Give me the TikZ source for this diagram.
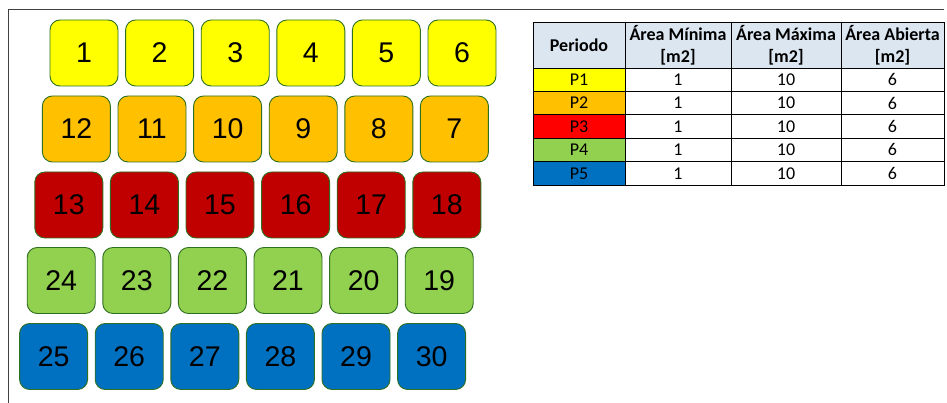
\documentclass[tikz,border=0pt]{standalone}
\usepackage{fontspec}
\newfontfamily\arifont{Liberation Sans}
\newfontfamily\calfont{Carlito}
\definecolor{cyel}{HTML}{FFFF00}
\definecolor{corg}{HTML}{FFC000}
\definecolor{cdred}{HTML}{C00000}
\definecolor{cred}{HTML}{FF0000}
\definecolor{cgrn}{HTML}{92D050}
\definecolor{cblu}{HTML}{0070C0}
\definecolor{chead}{HTML}{DCE6F1}
\definecolor{cedge}{HTML}{2F6F20}
\definecolor{cframe}{HTML}{404040}
\tikzset{
  cell/.style={draw=cedge, line width=0.9pt, rounded corners=10pt, minimum width=68pt, minimum height=66pt, inner sep=0pt, font=\arifont\fontsize{28.5}{28.5}\selectfont},
  tcell/.style={draw=black, line width=0.8pt, inner sep=0pt, font=\calfont\fontsize{18}{19}\selectfont, align=center},
  thead/.style={tcell, fill=chead, font=\calfont\bfseries\fontsize{18}{22}\selectfont}
}
\begin{document}
\begin{tikzpicture}[x=1pt,y=-1pt]
\useasboundingbox (0,0) rectangle (947,403);
\fill[white] (0,0) rectangle (947,403);
\coordinate (fa) at (8.5,403);
\coordinate (fb) at (8.5,9.5);
\coordinate (fc) at (944,9.5);
\draw[cframe, line width=1pt] (fa) -- (fb) -- (fc);
% boxes
\foreach \lab [count=\i from 0] in {1,2,3,4,5,6}
  \node[cell, fill=cyel] (b\lab) at (84+75.6*\i, 53) {\lab};
\foreach \lab [count=\i from 0] in {12,11,10,9,8,7}
  \node[cell, fill=corg] (b\lab) at (76.4+75.6*\i, 129) {\lab};
\foreach \lab [count=\i from 0] in {13,14,15,16,17,18}
  \node[cell, fill=cdred] (b\lab) at (68.8+75.6*\i, 205) {\lab};
\foreach \lab [count=\i from 0] in {24,23,22,21,20,19}
  \node[cell, fill=cgrn] (b\lab) at (61.2+75.6*\i, 280.5) {\lab};
\foreach \lab [count=\i from 0] in {25,26,27,28,29,30}
  \node[cell, fill=cblu] (b\lab) at (53.6+75.6*\i, 356.5) {\lab};
% table header
\node[thead, minimum width=92pt, minimum height=46pt] (h0) at (579,45) {Periodo};
\node[thead, minimum width=106pt, minimum height=46pt] (h1) at (678,45) {Área Mínima\\{}[m2]};
\node[thead, minimum width=110pt, minimum height=46pt] (h2) at (786,45) {Área Máxima\\{}[m2]};
\node[thead, minimum width=103pt, minimum height=46pt] (h3) at (892.5,45) {Área Abierta\\{}[m2]};
% table rows
\foreach \p/\c [count=\i from 0] in {P1/cyel,P2/corg,P3/cred,P4/cgrn,P5/cblu}{
  \node[tcell, fill=\c, minimum width=92pt, minimum height=23.4pt] (r\i c0) at (579, 79.7+23.4*\i) {\p};
  \node[tcell, fill=white, minimum width=106pt, minimum height=23.4pt] (r\i c1) at (678, 79.7+23.4*\i) {1};
  \node[tcell, fill=white, minimum width=110pt, minimum height=23.4pt] (r\i c2) at (786, 79.7+23.4*\i) {10};
  \node[tcell, fill=white, minimum width=103pt, minimum height=23.4pt] (r\i c3) at (892.5, 79.7+23.4*\i) {6};
}
\end{tikzpicture}
\end{document}
